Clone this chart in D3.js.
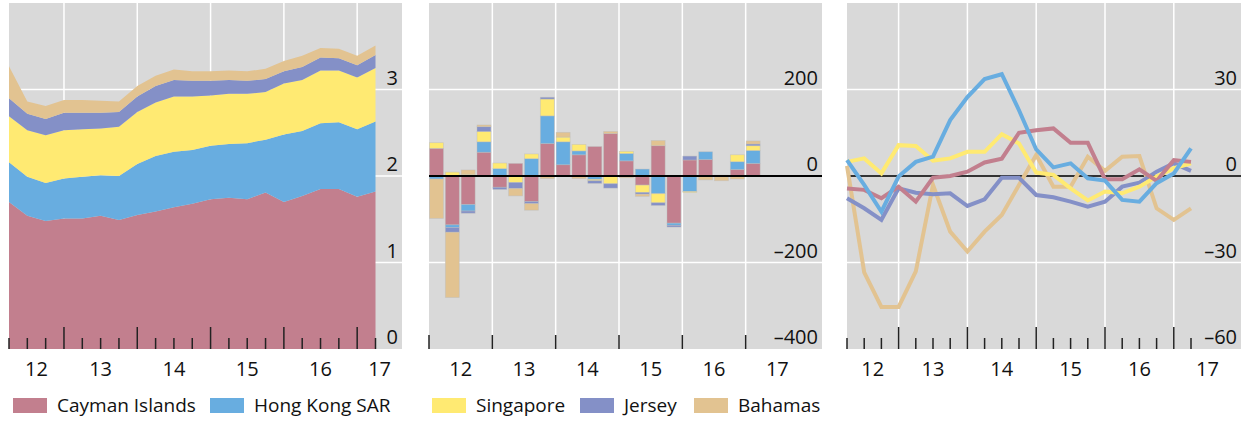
<!DOCTYPE html>
<html>
<head>
<meta charset="utf-8">
<script src="https://cdn.jsdelivr.net/npm/d3@7"></script>
<style>
  body { margin: 0; background: #fff; }
  svg { display: block; font-family: "Open Sans", sans-serif; }
</style>
</head>
<body>
<svg width="1246" height="421"></svg>
<script>
var quarters = ["2012Q1","2012Q2","2012Q3","2012Q4","2013Q1","2013Q2","2013Q3","2013Q4",
  "2014Q1","2014Q2","2014Q3","2014Q4","2015Q1","2015Q2","2015Q3","2015Q4",
  "2016Q1","2016Q2","2016Q3","2016Q4","2017Q1"];
var yearLabels = ["12", "13", "14", "15", "16", "17"];
var keys = ["Cayman Islands", "Hong Kong SAR", "Singapore", "Jersey", "Bahamas"];
var colors = ["#c27f8e", "#68ade0", "#ffea72", "#8490c7", "#e2c391"];

// left panel: stocks, trillions
var stockCayman  = [1.70,1.54,1.48,1.51,1.51,1.54,1.49,1.55,1.59,1.64,1.68,1.73,1.75,1.73,1.81,1.70,1.77,1.85,1.85,1.76,1.82];
var stockHK      = [0.46,0.45,0.44,0.46,0.48,0.47,0.51,0.59,0.64,0.64,0.62,0.62,0.62,0.65,0.61,0.78,0.75,0.76,0.77,0.78,0.81];
var stockSing    = [0.53,0.54,0.55,0.56,0.55,0.54,0.57,0.60,0.62,0.64,0.62,0.58,0.58,0.57,0.55,0.59,0.59,0.61,0.60,0.60,0.62];
var stockJersey  = [0.21,0.19,0.19,0.20,0.19,0.18,0.17,0.18,0.19,0.19,0.18,0.17,0.16,0.15,0.15,0.14,0.15,0.15,0.14,0.14,0.15];
var stockBahamas = [0.37,0.14,0.15,0.15,0.15,0.14,0.12,0.12,0.12,0.12,0.11,0.11,0.11,0.11,0.12,0.12,0.13,0.11,0.11,0.11,0.11];

// middle panel: flows
var flowCayman  = [64,-113,-66,55,-26,29,-59,75,26,49,68,98,35,-21,70,-109,37,38,0,15,29];
var flowHK      = [-7,-6,-15,24,17,0,40,64,53,9,-8,0,17,16,-41,-5,-36,18,0,18,30];
var flowSing    = [13,9,4,24,13,-15,11,39,11,15,-3,-18,5,-17,-21,0,-2,0,2,16,11];
var flowJersey  = [0,-11,-5,11,-5,-14,-5,4,0,0,-6,-10,0,-4,-6,-4,9,0,0,0,4];
var flowBahamas = [-91,-151,10,4,0,-17,-15,-6,11,-6,0,5,-4,-5,12,0,0,-9,-11,-7,7];

// right panel: growth, per cent
var growCayman  = [-4.3,-4.8,-7.7,-3.7,-8.9,-0.6,0,1.5,4.7,6.0,15.0,15.9,16.5,11.5,11.5,-1.1,-1.1,2.3,-1.7,5.5,4.9];
var growHK      = [5.5,-3.1,-12.4,-0.2,4.9,6.7,19.4,27.4,33.6,35.3,22.8,9.2,3.0,4.4,-0.8,-1.6,-8.3,-8.9,-2.5,0.9,9.6];
var growSing    = [4.9,6.1,0.9,10.7,10.4,5.3,6.1,8.4,8.4,14.5,11.3,1.2,0.4,-4.3,-8.5,-5.4,-6.0,-3.7,-0.2,2.7,4.4];
var growJersey  = [-7.7,-11.2,-15.2,-4.3,-5.8,-6.3,-6.0,-10.4,-8.1,-0.6,-0.6,-6.6,-7.4,-8.9,-10.6,-8.9,-3.7,-2.3,1.5,4.4,1.8];
var growBahamas = [3.5,-33.4,-45.4,-45.4,-33.1,-3.1,-19.3,-26.2,-19.3,-13.5,-3.1,7.3,-3.7,-3.7,6.7,1.8,6.7,6.9,-11.2,-15.2,-11.2];

var ticks1 = [0, 1, 2, 3];
var ticks2 = [-400, -200, 0, 200];
var ticks3 = [-60, -30, 0, 30];

var svg = d3.select("svg");
var plotTop = 3, plotBottom = 349;

// quarter "2012Q1" -> end of quarter in years (2012.25)
function qEnd(s) { return +s.slice(0, 4) + (+s.slice(5)) / 4; }

function table(cols) {
  return quarters.map(function(q, i) {
    var row = {t: qEnd(q)};
    keys.forEach(function(k, j) { row[k] = cols[j][i]; });
    return row;
  });
}

var stocks = table([stockCayman, stockHK, stockSing, stockJersey, stockBahamas]);
var flows = table([flowCayman, flowHK, flowSing, flowJersey, flowBahamas]);
var growth = table([growCayman, growHK, growSing, growJersey, growBahamas]);

function fmt(v) { return String(v).replace("-", "\u2013"); }

// gray box, gridlines
function frame(p) {
  var g = svg.append("g");
  g.append("rect")
      .attr("x", p.left).attr("y", plotTop)
      .attr("width", p.right - p.left).attr("height", plotBottom - plotTop)
      .attr("fill", "#d9d9d9");
  g.selectAll(".vgrid")
    .data(d3.range(2013, 2018))
    .enter().append("line")
      .attr("x1", function(d) { return p.x(d); })
      .attr("x2", function(d) { return p.x(d); })
      .attr("y1", plotTop).attr("y2", plotBottom)
      .attr("stroke", "#fff").attr("stroke-width", 1.5);
  g.selectAll(".hgrid")
    .data(p.yticks.slice(1))
    .enter().append("line")
      .attr("x1", p.left).attr("x2", p.right)
      .attr("y1", function(d) { return p.y(d); })
      .attr("y2", function(d) { return p.y(d); })
      .attr("stroke", "#fff").attr("stroke-width", 1.5);
  return g;
}

function labels(p) {
  var g = svg.append("g").attr("font-size", 20).attr("fill", "#111");
  g.selectAll(".ylab")
    .data(p.yticks)
    .enter().append("text")
      .attr("x", p.right - 4)
      .attr("y", function(d) { return p.y(d) - 5; })
      .attr("text-anchor", "end")
      .text(fmt);
  var xmax = Math.min(p.right, p.x(2018));
  g.selectAll(".xlab")
    .data(yearLabels)
    .enter().append("text")
      .attr("x", function(d, i) {
        var a = Math.max(p.left, p.x(2012 + i)), b = Math.min(xmax, p.x(2013 + i));
        return (a + b) / 2;
      })
      .attr("y", 376)
      .attr("text-anchor", "middle")
      .text(function(d) { return d; });
}

function ticks(p, majors, minors, majorLen, minorLen) {
  var g = svg.append("g").attr("stroke", "#222").attr("stroke-width", 1.5);
  g.selectAll(".maj")
    .data(majors)
    .enter().append("line")
      .attr("x1", function(d) { return p.x(d); })
      .attr("x2", function(d) { return p.x(d); })
      .attr("y1", plotBottom).attr("y2", plotBottom - majorLen);
  g.selectAll(".min")
    .data(minors)
    .enter().append("line")
      .attr("x1", function(d) { return p.x(d); })
      .attr("x2", function(d) { return p.x(d); })
      .attr("y1", plotBottom).attr("y2", plotBottom - minorLen);
}

var quarterTimes = quarters.map(qEnd);
var minorTimes = quarterTimes.filter(function(t) { return t % 1 !== 0; });
var years = d3.range(2013, 2018);

// ---- panel 1: stacked area
var p1 = {
  left: 9, right: 402, yticks: ticks1,
  x: d3.scaleLinear().domain([2012.25, 2017.25]).range([9, 375.5]),
  y: d3.scaleLinear().domain([0, 4]).range([plotBottom, plotTop])
};
frame(p1);
var area = d3.area()
    .x(function(d) { return p1.x(d.data.t); })
    .y0(function(d) { return p1.y(d[0]); })
    .y1(function(d) { return p1.y(d[1]); });
svg.append("g").selectAll("path")
  .data(d3.stack().keys(keys)(stocks))
  .enter().append("path")
    .attr("d", area)
    .attr("fill", function(d, i) { return colors[i]; });
ticks(p1, years, minorTimes, 22, 11);
labels(p1);

// ---- panel 2: diverging stacked bars
var p2 = {
  left: 429, right: 822, yticks: ticks2,
  x: d3.scaleLinear().domain([2012, 2017.25]).range([429, 761.5]),
  y: d3.scaleLinear().domain([-400, 400]).range([plotBottom, plotTop])
};
frame(p2);
var slot = p2.x(2012.25) - p2.x(2012);
svg.append("g").selectAll("g")
  .data(d3.stack().keys(keys).offset(d3.stackOffsetDiverging)(flows))
  .enter().append("g")
    .attr("fill", function(d, i) { return colors[i]; })
  .selectAll("rect")
  .data(function(d) { return d.filter(function(s) { return s[1] !== s[0]; }); })
  .enter().append("rect")
    .attr("x", function(d) { return p2.x(d.data.t - 0.25) + 0.5; })
    .attr("width", slot * 0.88)
    .attr("y", function(d) { return p2.y(Math.max(d[0], d[1])); })
    .attr("height", function(d) { return Math.abs(p2.y(d[0]) - p2.y(d[1])); })
    .attr("stroke", "#bdbdbd").attr("stroke-width", 0.7).attr("stroke-opacity", 0.6);
svg.append("line")
    .attr("x1", p2.left).attr("x2", p2.right)
    .attr("y1", p2.y(0)).attr("y2", p2.y(0))
    .attr("stroke", "#000").attr("stroke-width", 2);
ticks(p2, d3.range(2012, 2018), [], 14, 0);
labels(p2);

// ---- panel 3: lines
var p3 = {
  left: 847, right: 1241, yticks: ticks3,
  x: d3.scaleLinear().domain([2012.25, 2017.25]).range([847, 1191]),
  y: d3.scaleLinear().domain([-60, 60]).range([plotBottom, plotTop])
};
frame(p3);
svg.append("line")
    .attr("x1", p3.left).attr("x2", p3.right)
    .attr("y1", p3.y(0)).attr("y2", p3.y(0))
    .attr("stroke", "#333").attr("stroke-width", 2);
var lineOrder = [4, 3, 2, 0, 1];
svg.append("g").selectAll("path")
  .data(lineOrder)
  .enter().append("path")
    .attr("d", function(k) {
      return d3.line()
          .x(function(d) { return p3.x(d.t); })
          .y(function(d) { return p3.y(d[keys[k]]); })(growth);
    })
    .attr("fill", "none")
    .attr("stroke", function(k) { return colors[k]; })
    .attr("stroke-width", 4);
ticks(p3, years, minorTimes, 22, 11);
labels(p3);

// ---- legend
var legendX = [13, 210, 432, 580, 694];
var legend = svg.append("g").selectAll("g")
  .data(keys)
  .enter().append("g")
    .attr("transform", function(d, i) { return "translate(" + legendX[i] + ",398)"; });
legend.append("rect")
    .attr("width", 34).attr("height", 15)
    .attr("fill", function(d, i) { return colors[i]; });
legend.append("text")
    .attr("x", 44).attr("y", 14)
    .attr("font-size", 19).attr("fill", "#111")
    .text(function(d) { return d; });
</script>
</body>
</html>
